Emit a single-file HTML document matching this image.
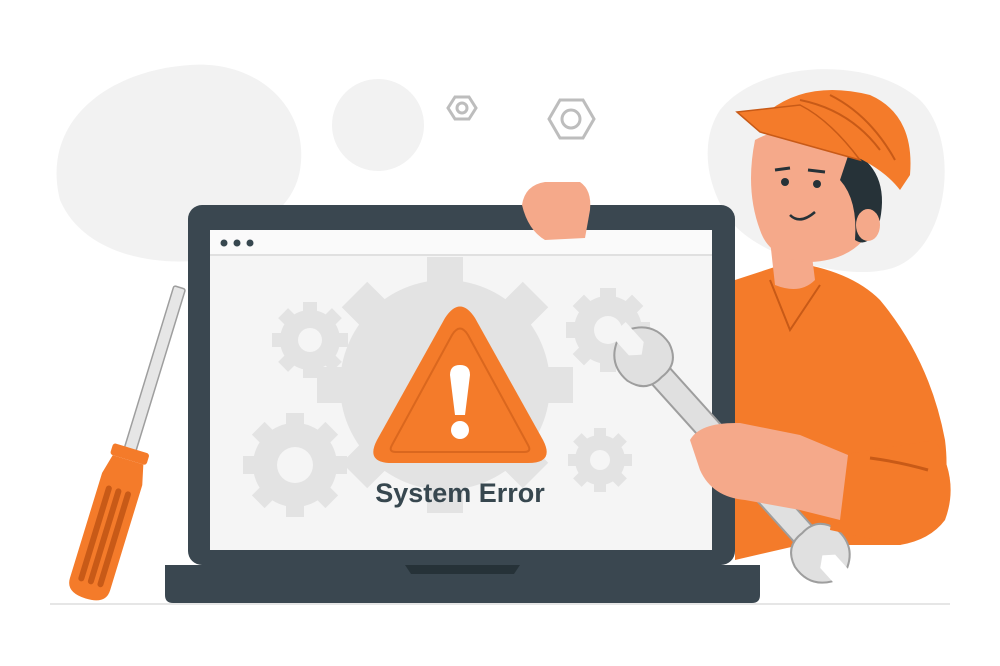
<!DOCTYPE html>
<html><head><meta charset="utf-8"><style>
html,body{margin:0;padding:0;background:#fff;width:1000px;height:666px;overflow:hidden}
svg{display:block}
</style></head><body>
<svg width="1000" height="666" viewBox="0 0 1000 666" xmlns="http://www.w3.org/2000/svg">
<g fill="#f2f2f2">
<path d="M60,200 C40,120 110,70 190,65 C260,60 310,110 300,170 C292,215 250,225 240,250 C200,270 90,270 60,200 Z"/>
<circle cx="378" cy="125" r="46"/>
<path d="M720,110 C760,60 870,55 920,100 C960,140 950,240 900,265 C860,285 760,260 730,220 C705,185 700,140 720,110 Z"/>
</g>
<g fill="#fff" stroke="#bdbdbd" stroke-width="3">
<polygon points="455,97 469,97 476,108 469,119 455,119 448,108"/>
<circle cx="462" cy="108" r="5"/>
<polygon points="560,100 583,100 594,119 583,138 560,138 549,119"/>
<circle cx="571" cy="119" r="9"/>
</g>
<line x1="50" y1="604" x2="950" y2="604" stroke="#e6e6e6" stroke-width="2"/>
<rect x="188" y="205" width="547" height="360" rx="14" fill="#3a4750"/>
<rect x="210" y="230" width="502" height="320" fill="#f5f5f5"/>
<rect x="210" y="230" width="502" height="25" fill="#fafafa"/>
<line x1="210" y1="255" x2="712" y2="255" stroke="#e0e0e0" stroke-width="2"/>
<circle cx="224" cy="243" r="3.5" fill="#37474f"/><circle cx="237" cy="243" r="3.5" fill="#37474f"/><circle cx="250" cy="243" r="3.5" fill="#37474f"/>
<path d="M165,565 H760 V595 Q760,603 752,603 H173 Q165,603 165,595 Z" fill="#3a4750"/>
<path d="M405,565 H520 L514,574 H411 Z" fill="#263238"/>
<g fill="#e3e3e3">
<circle cx="445" cy="385" r="105"/>
<g transform="translate(445,385)">
<rect x="-18" y="-128" width="36" height="256"/>
<rect x="-18" y="-128" width="36" height="256" transform="rotate(45)"/>
<rect x="-18" y="-128" width="36" height="256" transform="rotate(90)"/>
<rect x="-18" y="-128" width="36" height="256" transform="rotate(135)"/>
</g>
<g transform="translate(310,340)"><circle r="30"/><rect x="-7" y="-38" width="14" height="76"/><rect x="-7" y="-38" width="14" height="76" transform="rotate(45)"/><rect x="-7" y="-38" width="14" height="76" transform="rotate(90)"/><rect x="-7" y="-38" width="14" height="76" transform="rotate(135)"/></g>
<g transform="translate(295,465)"><circle r="42"/><rect x="-9" y="-52" width="18" height="104"/><rect x="-9" y="-52" width="18" height="104" transform="rotate(45)"/><rect x="-9" y="-52" width="18" height="104" transform="rotate(90)"/><rect x="-9" y="-52" width="18" height="104" transform="rotate(135)"/></g>
<g transform="translate(608,330)"><circle r="34"/><rect x="-8" y="-42" width="16" height="84"/><rect x="-8" y="-42" width="16" height="84" transform="rotate(45)"/><rect x="-8" y="-42" width="16" height="84" transform="rotate(90)"/><rect x="-8" y="-42" width="16" height="84" transform="rotate(135)"/></g>
<g transform="translate(600,460)"><circle r="25"/><rect x="-6" y="-32" width="12" height="64"/><rect x="-6" y="-32" width="12" height="64" transform="rotate(45)"/><rect x="-6" y="-32" width="12" height="64" transform="rotate(90)"/><rect x="-6" y="-32" width="12" height="64" transform="rotate(135)"/></g>
</g>
<g fill="#f5f5f5">
<circle cx="310" cy="340" r="12"/><circle cx="295" cy="465" r="18"/><circle cx="608" cy="330" r="14"/><circle cx="600" cy="460" r="10"/>
</g>
<path d="M445,318 Q460,295 475,318 L543,440 Q555,463 528,463 L392,463 Q365,463 377,440 Z" fill="#f47b2a"/>
<path d="M452,335 Q460,322 468,335 L528,445 Q532,452 524,452 L396,452 Q388,452 392,445 Z" fill="none" stroke="#c85a17" stroke-width="2" opacity="0.6"/>
<path d="M450,375 L455,415 H465 L470,375 Q470,365 460,365 Q450,365 450,375 Z" fill="#fff"/>
<circle cx="460" cy="430" r="9" fill="#fff"/>
<text x="460" y="502" text-anchor="middle" font-family="Liberation Sans, sans-serif" font-weight="bold" font-size="27" fill="#37474f">System Error</text>
<!-- screwdriver -->
<g transform="rotate(17 130 450)">
<rect x="124" y="280" width="12" height="172" rx="2" fill="#e6e6e6" stroke="#9e9e9e" stroke-width="1.5"/>
<rect x="112" y="448" width="38" height="12" rx="3" fill="#f47b2a"/>
<path d="M115,460 H147 L152,480 V590 Q152,605 131,605 Q110,605 110,590 V480 Z" fill="#f47b2a"/>
<rect x="118" y="490" width="6" height="100" rx="3" fill="#c85a17"/>
<rect x="128" y="490" width="6" height="100" rx="3" fill="#c85a17"/>
<rect x="138" y="490" width="6" height="100" rx="3" fill="#c85a17"/>
</g>
<!-- man body -->
<path d="M735,280 L790,262 Q850,270 880,300 Q930,360 945,440 Q955,520 900,545 L800,545 L735,560 Z" fill="#f47b2a"/>
<path d="M770,280 L790,330 L820,285" fill="none" stroke="#c85a17" stroke-width="2"/>
<path d="M770,240 L775,285 Q800,295 815,280 L810,240 Z" fill="#f5a98a"/>
<path d="M755,140 Q790,120 850,140 Q880,170 875,220 Q860,260 810,262 Q770,260 760,230 Q745,190 755,140 Z" fill="#f5a98a"/>
<path d="M850,150 Q890,170 880,220 Q870,250 855,240 Q858,200 840,180 Z" fill="#263238"/>
<ellipse cx="868" cy="225" rx="12" ry="16" fill="#f5a98a"/>
<circle cx="785" cy="182" r="4" fill="#263238"/><circle cx="817" cy="184" r="4" fill="#263238"/>
<path d="M775,170 L790,168 M808,170 L825,172" stroke="#263238" stroke-width="3"/>
<path d="M790,215 Q800,225 815,212" fill="none" stroke="#263238" stroke-width="2.5"/>
<path d="M770,110 Q810,80 870,95 Q915,115 910,175 L900,190 Q870,150 770,130 Z" fill="#f47b2a"/>
<path d="M737,112 L800,105 Q830,120 860,160 L760,132 Z" fill="#f47b2a" stroke="#c85a17" stroke-width="1.5"/>
<path d="M800,100 Q850,110 880,150 M830,95 Q870,115 895,160" fill="none" stroke="#c85a17" stroke-width="2"/>
<path d="M522,205 Q525,185 545,182 L580,182 Q592,190 590,210 L585,238 L545,240 Q528,230 522,205 Z" fill="#f5a98a"/>
<!-- wrench -->
<g transform="rotate(-42 732 455)">
<rect x="720" y="340" width="24" height="230" rx="6" fill="#e0e0e0" stroke="#9e9e9e" stroke-width="2"/>
<path d="M732,290 Q700,300 704,330 Q710,352 732,350 Q754,352 760,330 Q764,300 732,290 Z" fill="#e0e0e0" stroke="#9e9e9e" stroke-width="2"/>
<path d="M722,285 L722,312 L732,320 L742,312 L742,285 Z" fill="#f5f5f5"/>
<path d="M732,620 Q700,610 704,580 Q710,558 732,560 Q754,558 760,580 Q764,610 732,620 Z" fill="#e0e0e0" stroke="#9e9e9e" stroke-width="2"/>
<path d="M722,625 L722,598 L732,590 L742,598 L742,625 Z" fill="#fff"/>
</g>
<!-- hand and sleeve -->
<path d="M840,455 L935,440 Q960,480 945,520 Q930,540 900,545 L830,530 Z" fill="#f47b2a"/>
<path d="M690,440 Q700,422 740,423 L800,435 L848,455 L840,520 L800,510 L745,500 Q712,497 700,470 Z" fill="#f5a98a"/>
<path d="M870,458 Q900,462 928,470" stroke="#c85a17" stroke-width="3" fill="none"/>
</svg>
</body></html>
